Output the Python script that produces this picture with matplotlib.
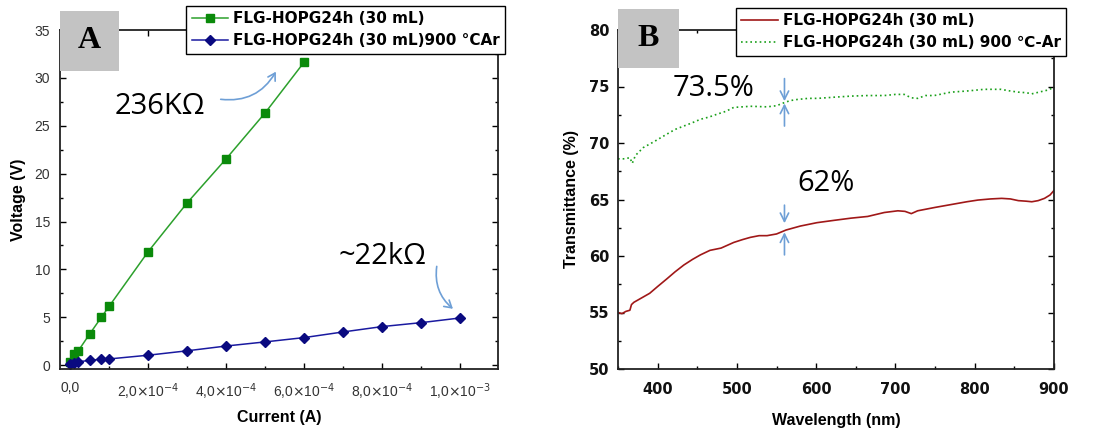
import matplotlib
matplotlib.use("Agg")
import matplotlib.pyplot as plt
from matplotlib.patches import Rectangle, FancyArrowPatch
from matplotlib.ticker import MultipleLocator

plt.rcParams["font.family"] = ["Liberation Sans", "DejaVu Sans"]

# panel A: I-V curves
current_green = [0, 1e-5, 2e-5, 5e-5, 8e-5, 1e-4, 2e-4, 3e-4, 4e-4, 5e-4, 6e-4]
voltage_green = [0.35, 1.2, 1.45, 3.25, 5.0, 6.15, 11.85, 16.95, 21.55, 26.35, 31.65]
current_blue = [0, 1e-5, 2e-5, 5e-5, 8e-5, 1e-4, 2e-4, 3e-4, 4e-4, 5e-4, 6e-4, 7e-4, 8e-4, 9e-4, 1e-3]
voltage_blue = [0.1, 0.25, 0.35, 0.5, 0.63, 0.65, 1.04, 1.5, 2.0, 2.43, 2.88, 3.47, 4.03, 4.44, 4.93]
xticks_a = [0, 2e-4, 4e-4, 6e-4, 8e-4, 1e-3]
xticklabels_a = ["0,0", r"2,0$\times$10$^{-4}$", r"4,0$\times$10$^{-4}$",
                 r"6,0$\times$10$^{-4}$", r"8,0$\times$10$^{-4}$", r"1,0$\times$10$^{-3}$"]

# panel B: transmittance spectra
wl_red = [350, 355, 360, 365, 367, 370, 380, 390, 400, 412, 422, 433, 444, 454, 466, 480,
          496, 507, 517, 528, 538, 550, 562, 580, 601, 622, 644, 665, 686, 703, 712,
          720, 728, 750, 770, 790, 804, 820, 834, 845, 855, 865, 872, 880, 888, 895, 900]
t_red = [55.0, 54.9, 55.1, 55.2, 55.7, 55.9, 56.3, 56.7, 57.3, 58.0, 58.6, 59.2, 59.7, 60.1,
         60.5, 60.7, 61.2, 61.45, 61.65, 61.8, 61.8, 61.95, 62.3, 62.65, 62.95, 63.15, 63.35,
         63.5, 63.85, 64.0, 63.95, 63.75, 64.0, 64.3, 64.55, 64.8, 64.95, 65.05, 65.1, 65.05,
         64.9, 64.85, 64.8, 64.9, 65.1, 65.4, 65.8]
wl_green = [350, 358, 365, 368, 372, 382, 395, 412, 422, 433, 444, 454, 465, 475, 486,
            496, 507, 517, 538, 550, 559, 567, 576, 590, 602, 622, 644, 665, 686, 700, 711,
            720, 728, 738, 749, 770, 790, 812, 833, 845, 855, 865, 872, 884, 893, 900]
t_green = [68.6, 68.6, 68.7, 68.2, 68.9, 69.6, 70.1, 70.8, 71.2, 71.5, 71.8, 72.1, 72.3,
           72.55, 72.8, 73.15, 73.2, 73.25, 73.2, 73.3, 73.55, 73.75, 73.85, 73.95, 73.95,
           74.05, 74.15, 74.2, 74.2, 74.3, 74.3, 74.0, 73.95, 74.2, 74.2, 74.5, 74.6, 74.75,
           74.75, 74.6, 74.5, 74.45, 74.35, 74.55, 74.7, 74.95]

label_1 = "FLG-HOPG24h (30 mL)"
label_2a = "FLG-HOPG24h (30 mL)900 \u00b0CAr"
label_2b = "FLG-HOPG24h (30 mL) 900 \u2103-Ar"

W, H = 1102, 430
fig = plt.figure(figsize=(W / 100, H / 100), dpi=100)


def fig_rect(x0, y0, x1, y1):
    # pixel box (top-left origin) -> figure fraction [l, b, w, h]
    return [x0 / W, 1 - y1 / H, (x1 - x0) / W, (y1 - y0) / H]


def style_axes(ax):
    for s in ax.spines.values():
        s.set_linewidth(1.3)
        s.set_color("#222222")
    ax.tick_params(which="both", direction="in", top=True, right=True, width=1)
    ax.tick_params(which="major", length=4)
    ax.tick_params(which="minor", length=2)


arrow_color = "#6e9fd6"
legend_kw = dict(loc="upper right", bbox_transform=fig.transFigure, frameon=True,
                 fancybox=False, edgecolor="black", framealpha=1, borderpad=0.35,
                 borderaxespad=0, labelspacing=0.45, handlelength=2.4, handletextpad=0.3,
                 prop={"weight": "bold", "size": 11, "family": ["DejaVu Sans"]})

# ---------------- panel A ----------------
ax1 = fig.add_axes(fig_rect(60, 30, 498, 369))
ax1.plot(current_green, voltage_green, color="#2ca02c", lw=1.1, marker="s", ms=5.5,
         mfc="#0a8a0a", mec="#0a8a0a", label=label_1)
ax1.plot(current_blue, voltage_blue, color="#1a1aa0", lw=1.1, marker="D", ms=5.5,
         mfc="#0a0a80", mec="#0a0a80", label=label_2a)
ax1.set_xlim(-2.6e-5, 1.097e-3)
ax1.set_ylim(-0.4, 35)
ax1.set_xticks(xticks_a)
ax1.set_xticklabels(xticklabels_a)
ax1.xaxis.set_minor_locator(MultipleLocator(1e-4))
ax1.yaxis.set_major_locator(MultipleLocator(5))
ax1.yaxis.set_minor_locator(MultipleLocator(2.5))
style_axes(ax1)
ax1.tick_params(labelsize=10, labelcolor="#333333")
ax1.tick_params(axis="x", pad=9)
ax1.tick_params(axis="y", pad=7)
ax1.set_xlabel("Current (A)", fontsize=11.5, fontweight="bold", labelpad=6)
ax1.set_ylabel("Voltage (V)", fontsize=11.5, fontweight="bold", labelpad=6)
ax1.legend(bbox_to_anchor=(505 / W, 1 - 6 / H), **legend_kw)
ax1.text(2.31e-4, 27.0, "236K\u03a9", fontsize=21, family="Open Sans",
         ha="center", va="center")
ax1.add_patch(FancyArrowPatch((3.79e-4, 27.8), (5.31e-4, 30.9),
                              connectionstyle="arc3,rad=0.35", arrowstyle="->,head_length=5,head_width=3",
                              color=arrow_color, lw=1.2))
ax1.text(8.0e-4, 11.35, "~22k\u03a9", fontsize=21, family="Open Sans",
         ha="center", va="center")
ax1.add_patch(FancyArrowPatch((9.41e-4, 10.6), (9.87e-4, 5.7),
                              connectionstyle="arc3,rad=0.3", arrowstyle="->,head_length=5,head_width=3",
                              color=arrow_color, lw=1.2))

# ---------------- panel B ----------------
ax2 = fig.add_axes(fig_rect(618, 30, 1054, 369))
ax2.plot(wl_red, t_red, color="#a01818", lw=1.2, label=label_1)
ax2.plot(wl_green, t_green, color="#1aa01a", lw=1.2, ls=(0, (1, 1.8)), label=label_2b)
ax2.set_xlim(350, 900)
ax2.set_ylim(50, 80)
ax2.xaxis.set_major_locator(MultipleLocator(100))
ax2.xaxis.set_minor_locator(MultipleLocator(50))
ax2.yaxis.set_major_locator(MultipleLocator(5))
ax2.yaxis.set_minor_locator(MultipleLocator(2.5))
style_axes(ax2)
for lab in ax2.get_xticklabels() + ax2.get_yticklabels():
    lab.set_fontweight("bold")
    lab.set_family(["DejaVu Sans"])
ax2.tick_params(labelsize=10.5, labelcolor="#111111")
ax2.tick_params(axis="x", pad=9)
ax2.tick_params(axis="y", pad=6)
ax2.set_xlabel("Wavelength (nm)", fontsize=11.5, fontweight="bold", labelpad=12)
ax2.set_ylabel("Transmittance (%)", fontsize=11.5, fontweight="bold", labelpad=7)
ax2.legend(bbox_to_anchor=(1066 / W, 1 - 8 / H), **legend_kw)
ax2.text(470, 74.8, "73.5%", fontsize=21, family="Open Sans", ha="center", va="center")
ax2.text(612, 66.4, "62%", fontsize=21, family="Open Sans", ha="center", va="center")
for y0, y1 in [(75.7, 73.7), (71.5, 73.5), (64.5, 62.9), (60.1, 62.1)]:
    ax2.annotate("", xy=(560, y1), xytext=(560, y0),
                 arrowprops=dict(arrowstyle="->,head_length=0.6,head_width=0.3",
                                 color=arrow_color, lw=1.2, shrinkA=0, shrinkB=0))

# panel letters in grey boxes
for (x0, y0, x1, y1), letter in [((60, 11, 119, 71), "A"), ((618, 9, 679, 68), "B")]:
    l, b, w, h = fig_rect(x0, y0, x1, y1)
    fig.patches.append(Rectangle((l, b), w, h, transform=fig.transFigure,
                                 facecolor="#c3c3c3", edgecolor="none", zorder=3))
    fig.text(l + w / 2, b + h / 2, letter, fontsize=23, fontweight="bold",
             family="Liberation Serif", ha="center", va="center", zorder=4)

fig.savefig("out.png", dpi=100)
